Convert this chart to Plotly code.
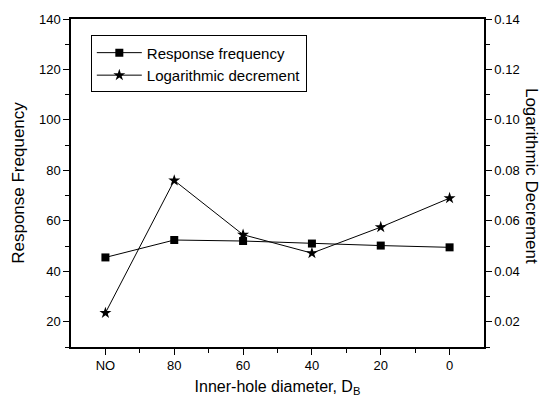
import plotly.graph_objects as go

x_pos = [100, 80, 60, 40, 20, 0]
x_labels = ["NO", "80", "60", "40", "20", "0"]
resp_freq = [45.5, 52.4, 52.0, 51.0, 50.2, 49.5]
log_dec = [0.0235, 0.0760, 0.0545, 0.0472, 0.0575, 0.0690]

font_family = "Liberation Sans, Arial, sans-serif"

fig = go.Figure()
fig.add_trace(go.Scatter(
    x=x_pos, y=resp_freq, name="Response frequency", mode="lines+markers",
    line=dict(color="black", width=1),
    marker=dict(symbol="square", size=8, color="black"),
))
fig.add_trace(go.Scatter(
    x=x_pos, y=log_dec, name="Logarithmic decrement", mode="lines+markers",
    yaxis="y2",
    line=dict(color="black", width=1),
    marker=dict(symbol="star", size=9, color="black"),
))

axis_common = dict(
    showline=True, linecolor="black", linewidth=1.5,
    ticks="outside", ticklen=6, tickwidth=1, tickcolor="black",
    showgrid=False, zeroline=False,
    tickfont=dict(family=font_family, size=13, color="black"),
)

fig.update_layout(
    width=554, height=405,
    margin=dict(l=71, r=70, t=15, b=56),
    paper_bgcolor="white", plot_bgcolor="white",
    font=dict(family=font_family, color="black"),
    showlegend=True,
    legend=dict(
        x=0.048, y=0.95, xanchor="left", yanchor="top",
        bordercolor="black", borderwidth=1, bgcolor="white",
        font=dict(family=font_family, size=15, color="black"),
        tracegroupgap=0, itemwidth=45,
    ),
    xaxis=dict(
        **axis_common,
        range=[110, -10],
        tickvals=x_pos, ticktext=x_labels,
        mirror=True,
        minor=dict(tickvals=[90, 70, 50, 30, 10], ticks="outside", ticklen=4, tickcolor="black"),
        title=dict(text="Inner-hole diameter, D<sub>B</sub>", font=dict(size=16), standoff=8),
    ),
    yaxis=dict(
        **axis_common,
        range=[10, 140], tick0=20, dtick=20,
        mirror=True,
        minor=dict(dtick=10, tick0=10, ticks="outside", ticklen=4, tickcolor="black"),
        title=dict(text="Response Frequency", font=dict(size=17), standoff=10),
    ),
    yaxis2=dict(
        **axis_common,
        overlaying="y", side="right",
        range=[0.01, 0.14], tick0=0.02, dtick=0.02, tickformat=".2f",
        minor=dict(dtick=0.01, tick0=0.01, ticks="outside", ticklen=4, tickcolor="black"),
    ),
    annotations=[dict(
        text="Logarithmic Decrement", textangle=90,
        xref="paper", yref="paper", x=1.115, y=0.52,
        xanchor="center", yanchor="middle", showarrow=False,
        font=dict(family=font_family, size=17, color="black"),
    )],
)

fig.write_html("out.html")
